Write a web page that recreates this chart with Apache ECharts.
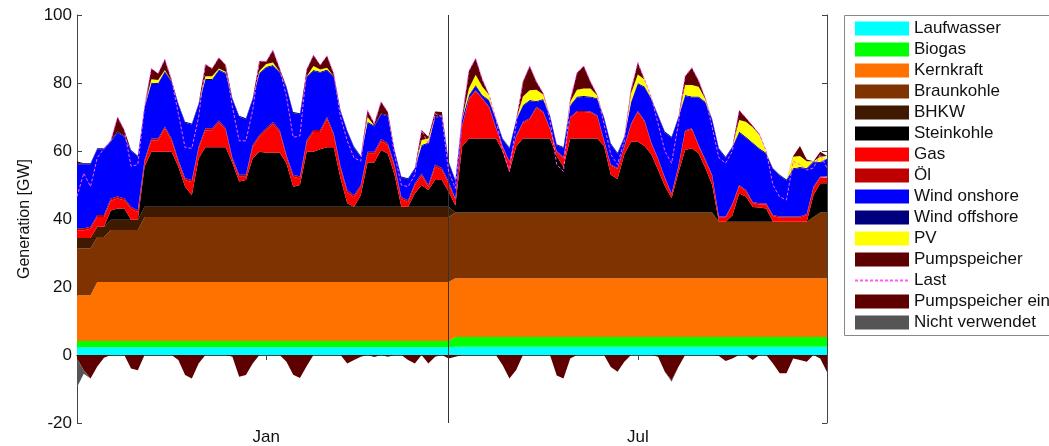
<!DOCTYPE html>
<html>
<head>
<meta charset="utf-8">
<title>Generation</title>
<script src="https://cdn.jsdelivr.net/npm/echarts@6/dist/echarts.min.js"></script>
<style>
    html, body { margin: 0; padding: 0; background: #fff; }
    .chart { width: 1049px; height: 446px; }
</style>
</head>
<body>
<div class="chart"></div>
<script>
// two sample weeks, 3-hour steps (8 values per day)
var weeks = ['Jan', 'Jul'];
var hours = ['00', '03', '06', '09', '12', '15', '18', '21'];
var tickLabels = {28: 'Jan', 83: 'Jul'};

var laufwasser = [
    2.3,2.3,2.3,2.3,2.3,2.3,2.3,2.3, 2.3,2.3,2.3,2.3,2.3,2.3,2.3,2.3,
    2.3,2.3,2.3,2.3,2.3,2.3,2.3,2.3, 2.3,2.3,2.3,2.3,2.3,2.3,2.3,2.3,
    2.3,2.3,2.3,2.3,2.3,2.3,2.3,2.3, 2.3,2.3,2.3,2.3,2.3,2.3,2.3,2.3,
    2.3,2.3,2.3,2.3,2.3,2.3,2.3,2.3,
    2.4,2.4,2.4,2.4,2.4,2.4,2.4,2.4, 2.4,2.4,2.4,2.4,2.4,2.4,2.4,2.4,
    2.4,2.4,2.4,2.4,2.4,2.4,2.4,2.4, 2.4,2.4,2.4,2.4,2.4,2.4,2.4,2.4,
    2.4,2.4,2.4,2.4,2.4,2.4,2.4,2.4, 2.4,2.4,2.4,2.4,2.4,2.4,2.4,2.4,
    2.4,2.4,2.4,2.4,2.4,2.4,2.4,2.4
];
var biogas = [
    1.8,1.8,1.8,1.8,1.8,1.8,1.8,1.8, 1.8,1.8,1.8,1.8,1.8,1.8,1.8,1.8,
    1.8,1.8,1.8,1.8,1.8,1.8,1.8,1.8, 1.8,1.8,1.8,1.8,1.8,1.8,1.8,1.8,
    1.8,1.8,1.8,1.8,1.8,1.8,1.8,1.8, 1.8,1.8,1.8,1.8,1.8,1.8,1.8,1.8,
    1.8,1.8,1.8,1.8,1.8,1.8,1.8,1.8,
    2.9,2.9,2.9,2.9,2.9,2.9,2.9,2.9, 2.9,2.9,2.9,2.9,2.9,2.9,2.9,2.9,
    2.9,2.9,2.9,2.9,2.9,2.9,2.9,2.9, 2.9,2.9,2.9,2.9,2.9,2.9,2.9,2.9,
    2.9,2.9,2.9,2.9,2.9,2.9,2.9,2.9, 2.9,2.9,2.9,2.9,2.9,2.9,2.9,2.9,
    2.9,2.9,2.9,2.9,2.9,2.9,2.9,2.9
];
var kernkraft = [
    13.5,13.5,13.5,17.4,17.4,17.4,17.4,17.4, 17.4,17.4,17.4,17.4,17.4,17.4,17.4,17.4,
    17.4,17.4,17.4,17.4,17.4,17.4,17.4,17.4, 17.4,17.4,17.4,17.4,17.4,17.4,17.4,17.4,
    17.4,17.4,17.4,17.4,17.4,17.4,17.4,17.4, 17.4,17.4,17.4,17.4,17.4,17.4,17.4,17.4,
    17.4,17.4,17.4,17.4,17.4,17.4,17.4,17.4,
    17.3,17.3,17.3,17.3,17.3,17.3,17.3,17.3, 17.3,17.3,17.3,17.3,17.3,17.3,17.3,17.3,
    17.3,17.3,17.3,17.3,17.3,17.3,17.3,17.3, 17.3,17.3,17.3,17.3,17.3,17.3,17.3,17.3,
    17.3,17.3,17.3,17.3,17.3,17.3,17.3,17.3, 17.3,17.3,17.3,17.3,17.3,17.3,17.3,17.3,
    17.3,17.3,17.3,17.3,17.3,17.3,17.3,17.3
];
var braunkohle = [
    13.8,13.8,13.8,13.2,13.2,15.3,15.3,15.3, 15.3,15.3,19.1,19.1,19.1,19.1,19.1,19.1,
    19.1,19.1,19.1,19.1,19.1,19.1,19.1,19.1, 19.1,19.1,19.1,19.1,19.1,19.1,19.1,19.1,
    19.1,19.1,19.1,19.1,19.1,19.1,19.1,19.1, 19.1,19.1,19.1,19.1,19.1,19.1,19.1,19.1,
    19.1,19.1,19.1,19.1,19.1,19.1,19.1,19.1,
    19.3,19.3,19.3,19.3,19.3,19.3,19.3,19.3, 19.3,19.3,19.3,19.3,19.3,19.3,19.3,19.3,
    19.3,19.3,19.3,19.3,19.3,19.3,19.3,19.3, 19.3,19.3,19.3,19.3,19.3,19.3,19.3,19.3,
    19.3,19.3,19.3,19.3,19.3,19.3,19.3,16.6, 16.6,16.6,16.6,16.6,16.6,16.6,16.6,16.6,
    16.6,16.6,16.6,16.6,16.6,18.0,19.3,19.3
];
var bhkw = [
    3,3,3,3,3,3,3,3, 3,3,3,3,3,3,3,3, 3,3,3,3,3,3,3,3, 3,3,3,3,3,3,3,3,
    3,3,3,3,3,3,3,3, 3,3,3,3,3,3,3,3, 3,3,3,3,3,3,3,3,
    0,0,0,0,0,0,0,0, 0,0,0,0,0,0,0,0, 0,0,0,0,0,0,0,0, 0,0,0,0,0,0,0,0,
    0,0,0,0,0,0,0,0, 0,0,0,0,0,0,0,0, 0,0,0,0,0,0,0,0
];
var steinkohle = [
    0,0,0,0,0,2.7,3.3,3.3,
    0,0,11.8,16.2,16.2,16.2,16.2,11.8,
    5.9,3.4,14.2,17.5,17.5,17.5,17.5,12.9,
    7.4,7.9,14.2,16.2,15.9,15.9,15.9,12.8,
    5.9,6.4,16.2,16.2,16.9,17.5,17.5,8.4,
    1.0,0,3.4,13.0,13.0,16.7,15.7,9.4,
    0,0,3.9,6.4,4.9,7.9,7.9,4.4,
    2.1,19.4,21.8,21.8,21.8,21.8,21.8,18.1,
    12.1,19.4,21.8,21.8,21.8,21.8,21.8,16.6,
    13.4,21.8,21.8,21.8,21.8,21.8,19.6,11.1,
    9.9,17.1,20.8,20.8,19.6,17.1,12.5,7.8,
    4.2,11.6,18.4,18.9,17.4,13.1,8.1,0,
    0,1.8,8.3,7.4,4.3,4.2,3.9,0,
    0,0,0,0,0,6.4,8.6,8.6
];
var gas = [
    2.3,2.3,2.7,2.9,2.9,2.9,2.9,2.4,
    3.2,2.2,1.4,3.3,3.3,6.8,3.3,1.4,
    1.9,3.9,2.9,5.0,5.0,7.3,5.0,0.9,
    1.4,0.9,3.4,4.3,6.6,8.4,6.1,1.8,
    2.9,1.9,2.8,5.8,5.1,8.3,3.5,2.9,
    3.3,2.8,2.4,2.6,2.6,2.6,2.4,2.4,
    2.3,1.3,2.4,2.8,0.9,3.9,2.9,2.4,
    1.7,5.9,11.5,13.9,11.5,9.0,3.0,1.2,
    2.7,2.9,4.6,5.6,9.0,7.6,2.7,1.2,
    2.6,6.0,7.8,7.8,7.6,6.5,1.4,2.7,
    2.9,2.2,5.0,8.8,7.2,3.2,3.1,2.3,
    1.1,1.7,5.4,5.6,2.2,2.2,2.7,1.2,
    1.2,3.2,2.2,1.6,1.2,0.9,1.2,1.7,
    1.2,1.2,1.2,1.2,2.0,2.2,1.7,1.7
];
var oel = [
    0.6,0.6,0.6,0.6,0.6,0.6,0.6,0.6, 0.6,0.6,0.6,0.6,0.6,0.6,0.6,0.6,
    0.6,0.6,0.6,0.6,0.6,0.6,0.6,0.6, 0.6,0.6,0.6,0.6,0.6,0.6,0.6,0.6,
    0.6,0.6,0.6,0.6,0.6,0.6,0.6,0.6, 0.6,0.6,0.6,0.6,0.6,0.6,0.6,0.6,
    0.6,0.6,0.6,0.6,0.6,0.6,0.6,0.6,
    0.3,0.3,0.3,0.3,0.3,0.3,0.3,0.3, 0.3,0.3,0.3,0.3,0.3,0.3,0.3,0.3,
    0.3,0.3,0.3,0.3,0.3,0.3,0.3,0.3, 0.3,0.3,0.3,0.3,0.3,0.3,0.3,0.3,
    0.3,0.3,0.3,0.3,0.3,0.3,0.3,0.3, 0.3,0.3,0.3,0.3,0.3,0.3,0.3,0.3,
    0.3,0.3,0.3,0.3,0.3,0.3,0.3,0.3
];
var windOnshore = [
    18.8,18.8,18.4,19.3,19.3,16.7,18.8,18.1,
    16.4,15.7,15.3,16.1,16.0,16.0,16.5,16.3,
    16.3,16.3,12.4,14.2,14.2,14.7,16.0,17.2,
    17.1,16.3,13.4,18.0,17.8,16.5,16.8,19.9,
    18.2,18.3,18.5,17.3,16.8,13.7,16.5,16.2,
    17.2,14.0,8.2,8.5,7.4,7.2,7.9,4.0,
    5.7,6.2,4.2,8.1,12.2,13.7,15.2,5.7,
    5.2,1.7,0.7,1.2,0.7,1.7,2.2,1.9,
    3.7,4.5,4.6,5.1,1.4,3.4,3.5,1.7,
    2.7,3.2,3.9,4.1,4.1,4.7,6.5,6.0,
    4.2,2.4,6.2,7.9,9.7,12.7,12.5,13.1,
    16.4,14.2,10.2,9.0,13.9,16.7,16.2,19.8,
    17.3,16.5,15.4,15.4,17.2,15.9,14.6,13.4,
    12.0,10.6,13.9,14.3,13.2,7.2,4.0,5.2
];
var windOffshore = [
    0.3,0.3,0.3,0.3,0.3,0.3,0.3,0.3, 0.3,0.3,0.3,0.3,0.3,0.3,0.3,0.3,
    0.3,0.3,0.3,0.3,0.3,0.3,0.3,0.3, 0.3,0.3,0.3,0.3,0.3,0.3,0.3,0.3,
    0.3,0.3,0.3,0.3,0.3,0.3,0.3,0.3, 0.3,0.3,0.3,0.3,0.3,0.3,0.3,0.3,
    0.3,0.3,0.3,0.3,0.3,0.3,0.3,0.3,
    0.3,0.3,0.3,0.3,0.3,0.3,0.3,0.3, 0.3,0.3,0.3,0.3,0.3,0.3,0.3,0.3,
    0.3,0.3,0.3,0.3,0.3,0.3,0.3,0.3, 0.3,0.3,0.3,0.3,0.3,0.3,0.3,0.3,
    0.3,0.3,0.3,0.3,0.3,0.3,0.3,0.3, 0.3,0.3,0.3,0.3,0.3,0.3,0.3,0.3,
    0.3,0.3,0.3,0.3,0.3,0.3,0.3,0.3
];
var pv = [
    0,0,0,0,0,0,0,0,
    0,0,0,1.0,0.9,0.3,0,0,
    0,0,0,0.8,0.8,0.3,0.3,0,
    0,0,0,0.5,0.8,0.7,0,0,
    0,0,0,1.2,0.7,0.5,0,0,
    0,0,0,1.4,0,0,0,0,
    0,0,0,1.4,1.2,0,0,0,
    0,0,1.9,3.0,2.4,1.5,0,0,
    0,0,2.5,2.9,3.3,1.3,0,0,
    0,1.0,2.0,2.2,2.4,0.8,0,0,
    0,0,2.5,2.5,2.0,0.3,0,0,
    0,0,2.9,3.4,2.9,0.7,0,0,
    0,0,3.4,4.4,4.5,4.0,0.5,0,
    0,0,3.4,3.2,2.0,0,1.5,0
];
var pumpspeicher = [
    0.6,0,0,0,0,0,4.3,1.7,
    0,0,0,3.2,1.9,3.2,0.4,0,
    0,0,0,3.5,2.3,3.2,2.0,0,
    0,0,0,3.0,0.7,3.7,1.0,0,
    0,0,2.0,3.2,1.3,3.5,0.8,0,
    0,0,0,2.0,0.6,3.5,1.0,0,
    0,0,0,3.0,0.5,1.6,1.0,0,
    0,0.5,5.1,4.9,2.1,0,0,0,
    0,0,4.4,7.1,2.4,0.4,0,0,
    0,0.5,5.0,6.6,2.0,0.2,0,0,
    0,0,1.0,3.5,0,0,0,0,
    0,0,2.6,5.1,1.8,0.3,0,0,
    0,0,2.9,1.2,0.4,0.2,0,0,
    0,0,0.2,3.0,0.5,0,1.5,0.5
];
var last = [
    46.6,53.5,49.5,58.0,60.8,63.0,70.0,66.2,
    55.5,56.0,73.0,84.3,82.8,87.0,80.9,71.0,
    61.0,60.8,70.0,85.5,84.3,87.5,85.3,73.0,
    63.0,63.0,72.0,86.5,86.3,89.7,84.3,76.0,
    64.0,64.5,84.0,88.2,85.3,88.0,82.8,70.0,
    63.0,58.0,57.0,72.0,68.0,74.5,71.5,59.0,
    50.0,49.5,53.0,66.2,62.0,71.0,70.0,54.0,
    49.0,70.0,83.5,87.3,81.0,76.5,69.5,60.0,
    54.0,68.0,80.4,85.0,80.4,77.0,69.0,56.0,
    54.0,75.0,83.0,85.0,80.4,76.5,68.0,59.0,
    56.0,63.0,78.0,86.0,81.0,75.8,68.0,60.0,
    56.4,68.0,82.0,84.5,80.7,75.5,67.0,58.0,
    56.4,60.0,72.0,69.8,67.4,65.0,60.0,50.0,
    46.5,45.6,57.0,56.0,54.4,55.0,59.0,55.0
];
var pumpEin = [
    -1.0,-4.5,-6.9,-3.4,-0.8,0,0,0,
    -4.0,-4.5,0,0,0,0,0,-1.5,
    -5.9,-6.9,-2.5,0,0,0,0,-0.5,
    -6.4,-5.9,-2.5,0,0,0,0,-2.0,
    -5.8,-6.8,-3.2,0,0,0,0,0,
    -2.5,-1.5,-0.5,0,-0.6,0,-0.5,0,
    0,-1.5,-2.5,0,-2.5,-0.5,0,-1.0,
    -0.5,0,0,0,0,0,0,-3.0,
    -6.9,-4.4,0,0,0,0,0,-6.0,
    -6.9,-1.0,0,0,0,0,0,-3.5,
    -4.9,-2.0,0,0,0,0,-0.5,-4.9,
    -7.4,-3.5,0,0,0,0,0,-0.3,
    -1.8,-1.0,0,0,-1.5,0,0,-2.5,
    -5.4,-5.4,-1.0,-1.5,-2.0,0,-1.0,-5.0
];
var nichtVerwendet = [
    -8.5,-1.0,0,0,0,0,0,0, 0,0,0,0,0,0,0,0, 0,0,0,0,0,0,0,0, 0,0,0,0,0,0,0,0,
    0,0,0,0,0,0,0,0, 0,0,0,0,0,0,0,0, 0,0,0,0,0,0,0,0,
    0,0,0,0,0,0,0,0, 0,0,0,0,0,0,0,0, 0,0,0,0,0,0,0,0, 0,0,0,0,0,0,0,0,
    -0.5,0,0,0,0,0,0,0, 0,0,0,0,0,0,0,0, 0,0,0,0,0,0,0,0
];

var times = [];
weeks.forEach(function (w) {
    for (var d = 1; d <= 7; d++) {
        hours.forEach(function (h) { times.push(w + ' ' + d + ' ' + h + ':00'); });
    }
});

var font = 'Liberation Sans, Arial, sans-serif';

function area(name, color, data, stack) {
    return {
        name: name,
        type: 'line',
        stack: stack,
        data: data,
        color: color,
        symbol: 'none',
        lineStyle: { width: 0 },
        areaStyle: { color: color, opacity: 1 },
        emphasis: { disabled: true },
        animation: false
    };
}

function showTick(i) {
    return i === 28 || i === 83;
}

var series = [
    area('Laufwasser', '#00ffff', laufwasser, 'gen'),
    area('Biogas', '#00ff00', biogas, 'gen'),
    area('Kernkraft', '#ff7200', kernkraft, 'gen'),
    area('Braunkohle', '#7f3300', braunkohle, 'gen'),
    area('BHKW', '#3f1900', bhkw, 'gen'),
    area('Steinkohle', '#000000', steinkohle, 'gen'),
    area('Gas', '#ff0000', gas, 'gen'),
    area('Öl', '#bf0000', oel, 'gen'),
    area('Wind onshore', '#0000ff', windOnshore, 'gen'),
    area('Wind offshore', '#00007f', windOffshore, 'gen'),
    area('PV', '#ffff00', pv, 'gen'),
    area('Pumpspeicher', '#5f0000', pumpspeicher, 'gen'),
    {
        name: 'Last',
        type: 'line',
        data: last,
        color: '#ff5cff',
        symbol: 'none',
        z: 5,
        lineStyle: { color: '#ff5cff', width: 1, type: [3, 2] },
        emphasis: { disabled: true },
        animation: false,
        // Trennlinie zwischen den beiden Wochen
        markLine: {
            silent: true,
            symbol: 'none',
            label: { show: false },
            lineStyle: { color: '#333', width: 1, type: 'solid' },
            data: [{ xAxis: times[55] }]
        }
    },
    area('Pumpspeicher ein', '#5f0000', pumpEin, 'use'),
    area('Nicht verwendet', '#555555', nichtVerwendet, 'use')
];

var legendItems = series.map(function (s) {
    if (s.name === 'Last') {
        return { name: s.name, itemStyle: { opacity: 0 } };
    }
    return { name: s.name, icon: 'rect' };
});

var myChart = echarts.init(document.querySelector('.chart'));
var option = {
    backgroundColor: '#fff',
    animation: false,
    grid: { left: 77, right: 222, top: 15, bottom: 23 },
    legend: {
        orient: 'vertical',
        left: 854,
        top: 20,
        padding: 0,
        itemWidth: 54,
        itemHeight: 14,
        itemGap: 4,
        selectedMode: false,
        textStyle: { fontSize: 17, color: '#111', fontFamily: font },
        data: legendItems
    },
    graphic: [{
        type: 'rect',
        shape: { x: 844.5, y: 15.5, width: 260, height: 320 },
        style: { fill: 'none', stroke: '#888', lineWidth: 1 },
        silent: true
    }],
    xAxis: [{
        type: 'category',
        data: times,
        boundaryGap: false,
        position: 'bottom',
        axisLine: { lineStyle: { color: '#444' } },
        axisTick: { inside: true, length: 5, interval: showTick, lineStyle: { color: '#444' } },
        axisLabel: {
            interval: showTick,
            formatter: function (v, i) { return tickLabels[i] || ''; },
            color: '#111', fontSize: 17, fontFamily: font, margin: 6
        },
        splitLine: { show: false }
    }, {
        type: 'category',
        data: times,
        boundaryGap: false,
        position: 'top',
        axisLine: { lineStyle: { color: '#444' } },
        axisTick: { inside: true, length: 5, interval: showTick, lineStyle: { color: '#444' } },
        axisLabel: { show: false },
        splitLine: { show: false }
    }],
    yAxis: [{
        type: 'value',
        min: -20,
        max: 100,
        interval: 20,
        name: 'Generation [GW]',
        nameLocation: 'middle',
        nameGap: 39,
        nameTextStyle: { fontSize: 16, color: '#111', fontFamily: font },
        axisLine: { show: true, lineStyle: { color: '#444' } },
        axisTick: { show: true, inside: true, length: 5, lineStyle: { color: '#444' } },
        axisLabel: { color: '#111', fontSize: 17, fontFamily: font, margin: 5 },
        splitLine: { show: false }
    }, {
        type: 'value',
        min: -20,
        max: 100,
        interval: 20,
        position: 'right',
        axisLine: { show: true, lineStyle: { color: '#444' } },
        axisTick: { show: true, inside: true, length: 5, lineStyle: { color: '#444' } },
        axisLabel: { show: false },
        splitLine: { show: false }
    }],
    series: series
};
myChart.setOption(option);
</script>
</body>
</html>
